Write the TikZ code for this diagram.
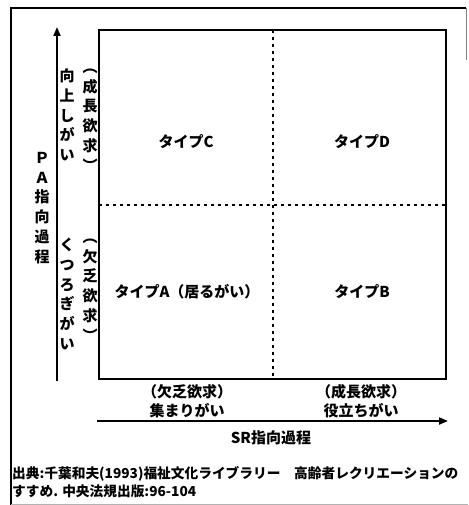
\documentclass[tikz,border=0pt]{standalone}
\usepackage{fontspec}
\setmainfont{Noto Sans CJK JP}
\usetikzlibrary{calc,arrows.meta}

\begin{document}
\begin{tikzpicture}[x=1pt,y=-1pt,font=\fontsize{15}{19.8}\selectfont\bfseries,
  vtext/.style={align=center,inner sep=0pt},
  dotline/.style={line width=1.4pt,dash pattern=on 3pt off 4pt},
  axis/.style={line width=2pt,-{Triangle[length=9pt,width=7pt]}}]
\useasboundingbox (0,0) rectangle (468,505);

% frame
\draw[line width=1.2pt] (11,505) -- (11,8) -- (466,8);
\draw[line width=.6pt,black!50] (466,8) -- (466,60);
\draw[line width=.6pt,black!30] (11,504) -- (468,504);

\coordinate (o) at (273,205);
\coordinate (nw) at (99,30);
\coordinate (se) at (446,379);

\draw[dotline] (nw |- o) -- (se |- o);
\draw[dotline] (o |- nw) -- (o |- se);
\draw[line width=2pt] (nw) rectangle (se);

% axes
\coordinate (ya) at (57,381);
\coordinate (yb) at (57,27);
\coordinate (xa) at (97,421);
\coordinate (xb) at (448,421);
\draw[axis] (ya) -- (yb);
\draw[axis] (xa) -- (xb);

\node (tC) at (186,142) {タイプC};
\node (tD) at (362,142) {タイプD};
\node (tA) at (187,292) {タイプA（居るがい）};
\node (tB) at (362,292) {タイプB};

\node[vtext] (pa) at (42,208) {Ｐ\\Ａ\\指\\向\\過\\程};
\node[vtext] (up) at (67,115) {向\\上\\し\\が\\い};
\node[vtext] (upn) at (90,120) {︵\\成\\長\\欲\\求\\︶};
\node[vtext] (rel) at (67,294) {く\\つ\\ろ\\ぎ\\が\\い};
\node[vtext] (reln) at (90,290) {︵\\欠\\乏\\欲\\求\\︶};

\node[vtext,font=\fontsize{15}{18.5}\selectfont\bfseries] (gat) at (187,401) {（欠乏欲求）\\集まりがい};
\node[vtext,font=\fontsize{15}{18.5}\selectfont\bfseries] (use) at (361,401) {（成長欲求）\\役立ちがい};
\node (sr) at (271,438) {SR指向過程};

\node[anchor=west,inner sep=0pt,font=\fontsize{13.7}{18}\selectfont\bfseries] (src) at (12,484)
  {\begin{tabular}{@{}l@{}}出典:千葉和夫(1993)福祉文化ライブラリー　高齢者レクリエーションの\\すすめ. 中央法規出版:96-104\end{tabular}};

\end{tikzpicture}
\end{document}
